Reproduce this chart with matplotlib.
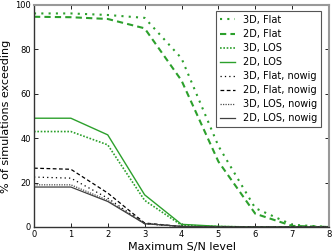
import matplotlib
matplotlib.use("Agg")
import matplotlib.pyplot as plt

sn_level = [0, 1, 2, 3, 4, 5, 6, 7, 8]

flat3d = [96.2, 96.2, 95.5, 94.2, 76.0, 36.5, 8.5, 1.0, 0.0]
flat2d = [94.7, 94.5, 93.7, 89.5, 66.0, 29.5, 6.0, 0.5, 0.0]
los3d = [43.0, 43.0, 37.0, 12.0, 0.8, 0.2, 0.0, 0.0, 0.0]
los2d = [49.0, 49.0, 41.5, 14.5, 1.2, 0.3, 0.0, 0.0, 0.0]

flat3d_nowig = [22.5, 22.0, 13.0, 1.5, 0.2, 0.0, 0.0, 0.0, 0.0]
flat2d_nowig = [26.5, 26.0, 15.3, 1.8, 0.2, 0.0, 0.0, 0.0, 0.0]
los3d_nowig = [19.0, 19.0, 12.0, 1.5, 0.2, 0.0, 0.0, 0.0, 0.0]
los2d_nowig = [18.0, 18.0, 11.5, 1.5, 0.3, 0.0, 0.0, 0.0, 0.0]

labels = ["3D, Flat", "2D, Flat", "3D, LOS", "2D, LOS",
          "3D, Flat, nowig", "2D, Flat, nowig", "3D, LOS, nowig", "2D, LOS, nowig"]

green = "#2ca02c"

fig = plt.figure(figsize=(3.36, 2.52), dpi=100)
ax = fig.add_axes([34/336, 1 - 227/252, (329-34)/336, (227-5)/252])

ax.plot(sn_level, flat3d, color=green, lw=1.5, ls=(0, (1, 2.5)), label=labels[0])
ax.plot(sn_level, flat2d, color=green, lw=1.5, ls=(0, (3, 2)), label=labels[1])
ax.plot(sn_level, los3d, color=green, lw=1.2, ls=(0, (1, 1)), label=labels[2])
ax.plot(sn_level, los2d, color=green, lw=1.0, ls="-", label=labels[3])
ax.plot(sn_level, flat3d_nowig, color="black", lw=0.9, ls=(0, (1, 2.5)), label=labels[4])
ax.plot(sn_level, flat2d_nowig, color="black", lw=0.9, ls=(0, (3, 2)), label=labels[5])
ax.plot(sn_level, los3d_nowig, color="0.3", lw=0.9, ls=(0, (1, 1)), label=labels[6])
ax.plot(sn_level, los2d_nowig, color="0.25", lw=0.9, ls="-", label=labels[7])

ax.set_xlim(0, 8)
ax.set_ylim(0, 100)
ax.set_xticks(range(0, 9))
ax.set_yticks(range(0, 101, 20))
ax.tick_params(direction="in", top=True, right=True, labelsize=6, length=3, width=0.6, pad=2)
for s in ("left", "bottom"):
    ax.spines[s].set_color("#333333")
    ax.spines[s].set_linewidth(1.0)
for s in ("top", "right"):
    ax.spines[s].set_color("#999999")
    ax.spines[s].set_linewidth(1.5)

ax.set_xlabel("Maximum S/N level", fontsize=8, labelpad=2)
ax.set_ylabel("% of simulations exceeding", fontsize=8, labelpad=3)

leg = ax.legend(loc="upper right", fontsize=7, handlelength=1.6, labelspacing=0.42,
                borderpad=0.4, handletextpad=0.8, fancybox=False, framealpha=1,
                bbox_to_anchor=(0.99, 0.995))
leg.get_frame().set_edgecolor("#555555")
leg.get_frame().set_linewidth(0.8)

fig.savefig("out.png", dpi=100)
